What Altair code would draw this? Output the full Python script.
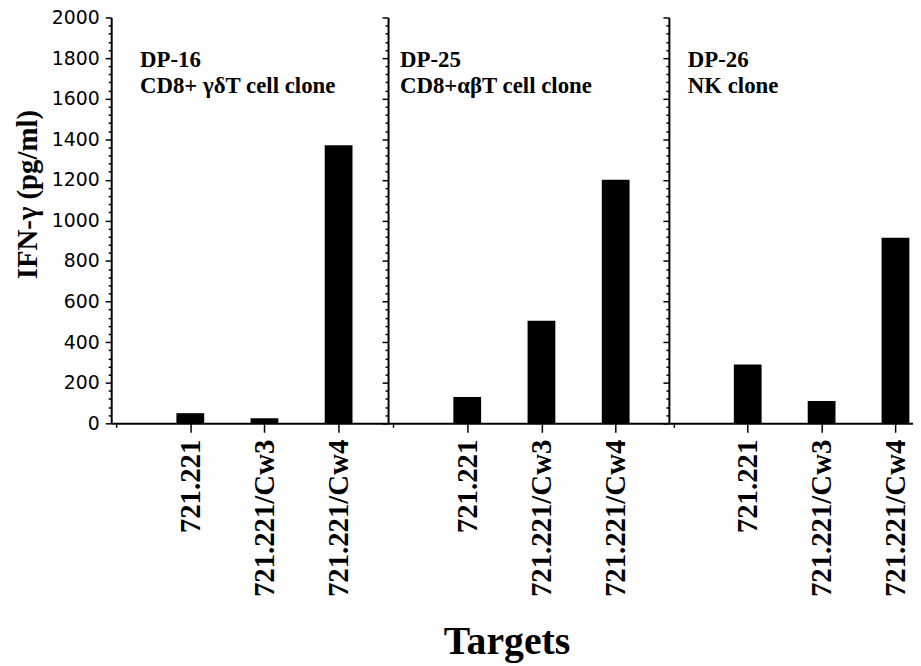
import altair as alt
import pandas as pd

targets = ["721.221", "721.221/Cw3", "721.221/Cw4"]
positions = [1, 2, 3]
dp16 = [50, 25, 1370]
dp25 = [130, 505, 1200]
dp26 = [290, 110, 915]

panel_names = ["DP-16", "DP-25", "DP-26"]
panel_subtitles = ["CD8+ γδT cell clone", "CD8+αβT cell clone", "NK clone"]
panel_values = [dp16, dp25, dp26]

y_ticks = list(range(0, 2001, 40))

label_expr = " : ".join(
    [f"datum.value == {p} ? '{t}'" for p, t in zip(positions, targets)]
) + " : ''"

SERIF = "Liberation Serif"

# layout (about 77.5 px per x unit)
x_max = [3.6, 3.65, 3.17]
widths = [279, 283, 246]
title_dx = [29, 12, 19]
H = 409


def panel(i):
    df = pd.DataFrame({
        "pos": positions,
        "target": targets,
        "value": panel_values[i],
    })
    first = i == 0
    yaxis_kw = {}
    if first:
        yaxis_kw["titleY"] = 178
    yaxis = alt.Axis(
        values=y_ticks,
        labelExpr="datum.value % 200 === 0 ? '' + datum.value : ''",
        labelOverlap=False,
        labels=first,
        title="IFN-γ (pg/ml)" if first else None,
        titleFont=SERIF,
        titleFontWeight="bold",
        titleFontSize=29,
        titleColor="black",
        titlePadding=9,
        labelFont="DejaVu Sans",
        labelFontSize=19,
        labelColor="black",
        labelPadding=6,
        tickSize={"condition": {"test": "datum.value % 200 === 0", "value": 6}, "value": 3},
        tickColor="black",
        tickWidth=1.5,
        domainColor="black",
        domainWidth=2,
        grid=False,
        **yaxis_kw,
    )
    xaxis = alt.Axis(
        values=[0] + positions,
        labelExpr=label_expr,
        labelOverlap=False,
        labelAngle=-90,
        labelFont=SERIF,
        labelFontWeight="bold",
        labelFontSize=29,
        labelColor="black",
        labelPadding=7,
        tickSize={"condition": {"test": "datum.value == 0", "value": 4}, "value": 9},
        tickColor="black",
        tickWidth=1.5,
        domainColor="black",
        domainWidth=2,
        grid=False,
        title=None,
    )
    bars = alt.Chart(df).mark_bar(color="black", size=28).encode(
        x=alt.X("pos:Q", scale=alt.Scale(domain=[0, x_max[i]], nice=False, zero=False), axis=xaxis),
        y=alt.Y("value:Q", scale=alt.Scale(domain=[0, 2000], nice=False), axis=yaxis),
    )
    tdf = pd.DataFrame({"label": [panel_names[i] + "\n" + panel_subtitles[i]]})
    text = alt.Chart(tdf).mark_text(
        align="left",
        baseline="alphabetic",
        font=SERIF,
        fontWeight="bold",
        fontSize=23,
        lineBreak="\n",
        lineHeight=26,
        color="black",
    ).encode(
        x=alt.value(title_dx[i]),
        y=alt.value(50),
        text="label:N",
    )
    return alt.layer(bars, text).properties(width=widths[i], height=H)


chart = alt.hconcat(
    panel(0), panel(1), panel(2), spacing=0, bounds="flush"
).properties(
    title=alt.TitleParams(
        "Targets",
        orient="bottom",
        anchor="middle",
        font=SERIF,
        fontWeight="bold",
        fontSize=40,
        color="black",
        offset=26,
        dx=44,
    ),
    padding={"left": 5, "top": -2, "right": 0, "bottom": 0},
).configure_view(stroke=None).configure_axis(labelOverlap=False)

chart.save("out.html", embed_options={"renderer": "svg", "actions": False})
